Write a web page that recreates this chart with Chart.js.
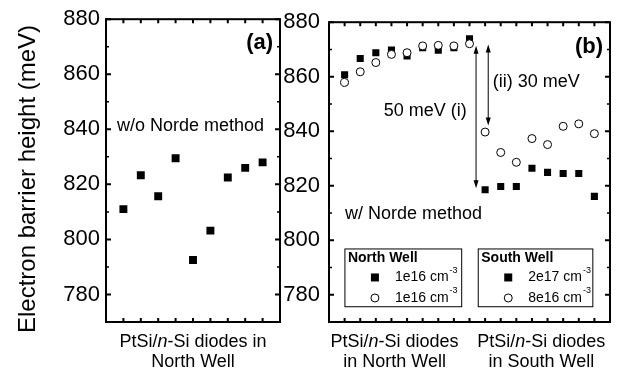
<!DOCTYPE html>
<html>
<head>
<meta charset="utf-8">
<script src="https://cdn.jsdelivr.net/npm/chart.js@4.4.0/dist/chart.umd.min.js"></script>
<style>
  html, body { margin: 0; padding: 0; background: #fff; }
  #wrap { position: relative; width: 618px; height: 372px; overflow: hidden; }
  #wrap canvas { position: absolute; top: 0; }
  #chartA { left: 0; }
  #chartB { left: 281px; }
</style>
</head>
<body>
<div id="wrap">
  <canvas id="chartA" width="290" height="372"></canvas>
  <canvas id="chartB" width="337" height="372"></canvas>
</div>
<script>
const FONT = "'Liberation Sans', Arial, Helvetica, sans-serif";

// diode number along x (panel a: north well, panel b: north then south well)
const diodesA = [1, 2, 3, 4, 5, 6, 7, 8, 9];
const diodesNorth = [1, 2, 3, 4, 5, 6, 7, 8, 9];
const diodesSouth = [10, 11, 12, 13, 14, 15, 16, 17];

// electron barrier height, meV
const noNorde = [811, 823.3, 815.7, 829.5, 792.5, 803.2, 822.5, 826, 828];
const northFilled = [860.7, 866.7, 868.8, 869.8, 867.6, 870.6, 869.7, 870.6, 873.9];
const northOpen = [857.9, 861.8, 865.2, 868.2, 868.8, 871.3, 871.5, 871.3, 872.1];
const southFilled = [818.5, 819.7, 819.7, 826.4, 824.9, 824.5, 824.5, 816.1];
const southOpen = [839.7, 832.2, 828.6, 837.3, 835.1, 841.8, 842.7, 839.1];

const yTicks = [780, 800, 820, 840, 860, 880];
const yMinor = [790, 810, 830, 850, 870];

const pts = (xs, ys) => xs.map((x, i) => ({ x: x, y: ys[i] }));

function font(size, bold, italic) {
  return (italic ? 'italic ' : '') + (bold ? 'bold ' : '') + size + 'px ' + FONT;
}

function txt(ctx, s, px, py, size, align, bold) {
  ctx.font = font(size, bold);
  ctx.textAlign = align || 'left';
  ctx.textBaseline = 'middle';
  ctx.fillStyle = '#000';
  ctx.fillText(s, px, py);
}

// centred text made of plain / italic pieces
function mixed(ctx, parts, cx, py, size) {
  let w = 0;
  parts.forEach(p => { ctx.font = font(size, false, p[1]); w += ctx.measureText(p[0]).width; });
  let x = cx - w / 2;
  ctx.textAlign = 'left';
  ctx.textBaseline = 'middle';
  ctx.fillStyle = '#000';
  parts.forEach(p => {
    ctx.font = font(size, false, p[1]);
    ctx.fillText(p[0], x, py);
    x += ctx.measureText(p[0]).width;
  });
}

// box with inward ticks, like the original plot
function drawFrame(chart, xTickVals) {
  const { ctx, chartArea: a, scales: { x, y } } = chart;
  ctx.save();
  ctx.strokeStyle = '#000';
  ctx.lineWidth = 2;
  ctx.strokeRect(a.left, a.top, a.right - a.left, a.bottom - a.top);
  ctx.beginPath();
  xTickVals.forEach(v => {
    const px = x.getPixelForValue(v);
    ctx.moveTo(px, a.bottom); ctx.lineTo(px, a.bottom - 4);
    ctx.moveTo(px, a.top); ctx.lineTo(px, a.top + 4);
  });
  yTicks.forEach(v => {
    const py = y.getPixelForValue(v);
    ctx.moveTo(a.left, py); ctx.lineTo(a.left + 5, py);
    ctx.moveTo(a.right, py); ctx.lineTo(a.right - 5, py);
  });
  ctx.stroke();
  ctx.lineWidth = 1.5;
  ctx.beginPath();
  yMinor.forEach(v => {
    const py = y.getPixelForValue(v);
    ctx.moveTo(a.left, py); ctx.lineTo(a.left + 3, py);
    ctx.moveTo(a.right, py); ctx.lineTo(a.right - 3, py);
  });
  ctx.stroke();
  ctx.restore();
}

function arrow2(ctx, px, y0, y1) {
  ctx.save();
  ctx.strokeStyle = '#000';
  ctx.fillStyle = '#000';
  ctx.lineWidth = 1;
  ctx.beginPath();
  ctx.moveTo(px, y0 + 4); ctx.lineTo(px, y1 - 4);
  ctx.stroke();
  ctx.beginPath();
  ctx.moveTo(px, y0); ctx.lineTo(px - 2.5, y0 + 8); ctx.lineTo(px + 2.5, y0 + 8); ctx.closePath();
  ctx.moveTo(px, y1); ctx.lineTo(px - 2.5, y1 - 8); ctx.lineTo(px + 2.5, y1 - 8); ctx.closePath();
  ctx.fill();
  ctx.restore();
}

function legendBox(chart, x0, x1, vTop, vBot, title, rows) {
  const { ctx, scales: { x, y } } = chart;
  const l = x.getPixelForValue(x0), r = x.getPixelForValue(x1);
  const t = y.getPixelForValue(vTop), b = y.getPixelForValue(vBot);
  ctx.save();
  ctx.strokeStyle = '#000';
  ctx.lineWidth = 1;
  ctx.strokeRect(l, t, r - l, b - t);
  txt(ctx, title, l + 3, t + 9, 14, 'left', true);
  rows.forEach((row, i) => {
    const cy = t + 28.5 + i * 20.5;
    const mx = l + 30;
    if (row.filled) {
      ctx.fillStyle = '#000';
      ctx.fillRect(mx - 4, cy - 4, 8, 8);
    } else {
      ctx.beginPath();
      ctx.arc(mx, cy, 4, 0, Math.PI * 2);
      ctx.fillStyle = '#fff';
      ctx.fill();
      ctx.stroke();
    }
    txt(ctx, row.label, l + 50, cy, 14, 'left', false);
    ctx.font = font(14);
    const w = ctx.measureText(row.label).width;
    txt(ctx, '-3', l + 50 + w + 1, cy - 7, 9, 'left', false);
  });
  ctx.restore();
}

function baseOptions(xMax, axisWidth, labelPad, padRight) {
  return {
    responsive: false,
    animation: false,
    events: [],
    layout: { padding: { left: 0, right: padRight, top: 19, bottom: 0 } },
    plugins: { legend: { display: false }, tooltip: { enabled: false } },
    scales: {
      x: {
        type: 'linear', min: 0, max: xMax,
        grid: { display: false, drawTicks: false },
        border: { display: false },
        ticks: { display: false },
        afterFit: s => { s.height = 50; }
      },
      y: {
        type: 'linear', min: 770, max: 880,
        grid: { display: false, drawTicks: false },
        border: { display: false },
        ticks: { color: '#000', padding: labelPad, font: { family: FONT, size: 22 } },
        afterBuildTicks: s => { s.ticks = yTicks.map(v => ({ value: v })); },
        afterFit: s => { s.width = axisWidth; }
      }
    }
  };
}

const squares = (data) => ({
  data: data, order: 1, pointStyle: 'rect', pointRadius: 5,
  backgroundColor: '#000', borderColor: '#000', borderWidth: 0
});
const circles = (data) => ({
  data: data, order: 0, pointStyle: 'circle', pointRadius: 4,
  backgroundColor: '#fff', borderColor: '#000', borderWidth: 1
});

// panel (a): without Norde method
new Chart(document.getElementById('chartA'), {
  type: 'scatter',
  data: {
    datasets: [Object.assign(squares(pts(diodesA, noNorde)), { pointRadius: 5.6 })]
  },
  options: baseOptions(10, 106, 6, 10),
  plugins: [{
    id: 'panelA',
    afterDraw(chart) {
      const { ctx, chartArea: a, scales: { x, y } } = chart;
      drawFrame(chart, diodesA);
      ctx.save();
      ctx.translate(28, 179);
      ctx.rotate(-Math.PI / 2);
      txt(ctx, 'Electron barrier height (meV)', 0, 0, 24, 'center', false);
      ctx.restore();
      txt(ctx, '(a)', x.getPixelForValue(9.6), y.getPixelForValue(871.3), 22, 'right', true);
      txt(ctx, 'w/o Norde method', x.getPixelForValue(0.63), y.getPixelForValue(841.2), 18, 'left', false);
      const cx = x.getPixelForValue(5);
      mixed(ctx, [['PtSi/', false], ['n', true], ['-Si diodes in', false]], cx, a.bottom + 20, 18);
      mixed(ctx, [['North Well', false]], cx, a.bottom + 40, 18);
    }
  }]
});

// panel (b): with Norde method
new Chart(document.getElementById('chartB'), {
  type: 'scatter',
  data: {
    datasets: [
      squares(pts(diodesNorth, northFilled)),
      circles(pts(diodesNorth, northOpen)),
      squares(pts(diodesSouth, southFilled)),
      circles(pts(diodesSouth, southOpen))
    ]
  },
  options: baseOptions(18, 48, 9, 8),
  plugins: [{
    id: 'panelB',
    afterDraw(chart) {
      const { ctx, chartArea: a, scales: { x, y } } = chart;
      drawFrame(chart, diodesNorth.concat(diodesSouth));
      txt(ctx, '(b)', x.getPixelForValue(17.55), y.getPixelForValue(870.9), 22, 'right', true);
      arrow2(ctx, x.getPixelForValue(9.42), y.getPixelForValue(871.4), y.getPixelForValue(819.1));
      arrow2(ctx, x.getPixelForValue(10.2), y.getPixelForValue(871.8), y.getPixelForValue(842.1));
      txt(ctx, '(ii) 30 meV', x.getPixelForValue(10.49), y.getPixelForValue(857.9), 18, 'left', false);
      txt(ctx, '50 meV (i)', x.getPixelForValue(8.82), y.getPixelForValue(847.3), 18, 'right', false);
      txt(ctx, 'w/ Norde method', x.getPixelForValue(1.02), y.getPixelForValue(809.5), 18, 'left', false);
      legendBox(chart, 1.02, 8.5, 796.8, 775.6, 'North Well',
        [{ filled: true, label: '1e16 cm' }, { filled: false, label: '1e16 cm' }]);
      legendBox(chart, 9.56, 16.9, 796.8, 775.6, 'South Well',
        [{ filled: true, label: '2e17 cm' }, { filled: false, label: '8e16 cm' }]);
      const c1 = x.getPixelForValue(4.2), c2 = x.getPixelForValue(13.6);
      mixed(ctx, [['PtSi/', false], ['n', true], ['-Si diodes', false]], c1, a.bottom + 20, 18);
      mixed(ctx, [['in North Well', false]], c1, a.bottom + 40, 18);
      mixed(ctx, [['PtSi/', false], ['n', true], ['-Si diodes', false]], c2, a.bottom + 20, 18);
      mixed(ctx, [['in South Well', false]], c2, a.bottom + 40, 18);
    }
  }]
});
</script>
</body>
</html>
